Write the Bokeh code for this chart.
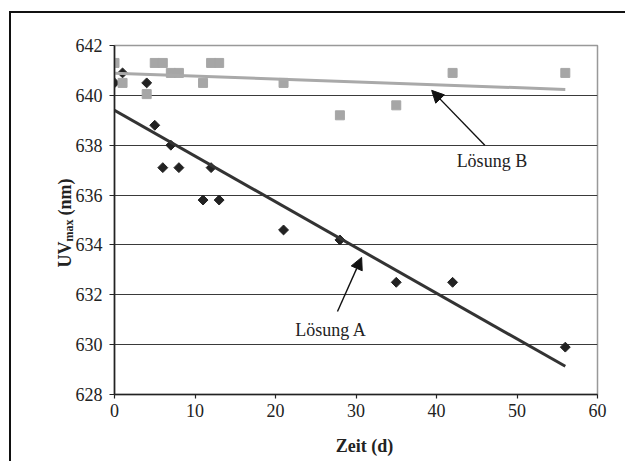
import numpy as np
from math import pi
from bokeh.plotting import figure
from bokeh.models import Label, Arrow, NormalHead, Range1d, FixedTicker
from bokeh.embed import file_html
from bokeh.resources import INLINE

# Data
days = [0, 1, 4, 5, 6, 7, 8, 11, 12, 13, 21, 28, 35, 42, 56]
uv_a = [640.5, 640.9, 640.5, 638.8, 637.1, 638.0, 637.1, 635.8, 637.1, 635.8,
        634.6, 634.2, 632.5, 632.5, 629.9]
uv_b = [641.3, 640.5, 640.05, 641.3, 641.3, 640.9, 640.9, 640.5, 641.3, 641.3,
        640.5, 639.2, 639.6, 640.9, 640.9]
x_ticks = [0, 10, 20, 30, 40, 50, 60]
y_ticks = [628, 630, 632, 634, 636, 638, 640, 642]
grid_ticks = [630, 632, 634, 636, 638, 640]

FONT = "Liberation Serif"
DARK = "#222222"
GRAY = "#a6a6a6"

p = figure(width=616, height=450, output_backend="svg", toolbar_location=None,
           x_range=Range1d(0, 60), y_range=Range1d(628, 642),
           min_border_left=103, min_border_right=30, min_border_top=32,
           min_border_bottom=69)
p.styles = {"margin-left": "9px", "margin-top": "11px",
            "border-left": "2px solid #111111", "border-top": "2px solid #111111"}

p.background_fill_color = "white"
p.border_fill_color = "white"
p.outline_line_color = "#999999"
p.outline_line_width = 1.5

p.xgrid.grid_line_color = None
p.ygrid.ticker = FixedTicker(ticks=grid_ticks)
p.ygrid.grid_line_color = "#3a3a3a"
p.ygrid.grid_line_width = 1

for ax, ticks, tout, stand in ((p.xaxis[0], x_ticks, 4, 5), (p.yaxis[0], y_ticks, 5, 7)):
    ax.ticker = FixedTicker(ticks=ticks)
    ax.minor_tick_line_color = None
    ax.major_tick_in = 0
    ax.major_tick_out = tout
    ax.major_tick_line_color = DARK
    ax.major_tick_line_width = 1.2
    ax.axis_line_color = DARK
    ax.axis_line_width = 1.6
    ax.major_label_text_font = FONT
    ax.major_label_text_font_size = "18px"
    ax.major_label_text_color = DARK
    ax.major_label_standoff = stand

# Scatter series
p.scatter(days, uv_a, marker="square", angle=pi / 4, size=7,
          fill_color=DARK, line_color=DARK)
p.scatter(days, uv_b, marker="square", size=9, fill_color=GRAY, line_color=GRAY)

# Linear trend lines (least squares fits of the series)
xa = np.array(days, dtype=float)
for ys, col in ((uv_a, "#333333"), (uv_b, "#a9a9a9")):
    k, d = np.polyfit(xa, np.array(ys), 1)
    xs = [min(days), max(days)]
    p.line(xs, [k * v + d for v in xs], line_color=col, line_width=3)

# Annotations
p.add_layout(Arrow(end=NormalHead(size=12, fill_color="#111111", line_color="#111111"),
                   x_start=27.7, y_start=631.33, x_end=30.7, y_end=633.5,
                   line_color="#111111", line_width=1.4))
p.add_layout(Arrow(end=NormalHead(size=12, fill_color="#111111", line_color="#111111"),
                   x_start=46.0, y_start=638.0, x_end=39.4, y_end=640.2,
                   line_color="#111111", line_width=1.4))
p.add_layout(Label(x=22.45, y=630.57, text="Lösung A", text_font=FONT,
                   text_font_size="18px", text_color=DARK,
                   text_align="left", text_baseline="alphabetic"))
p.add_layout(Label(x=42.5, y=637.35, text="Lösung B", text_font=FONT,
                   text_font_size="18px", text_color=DARK,
                   text_align="left", text_baseline="alphabetic"))

# Axis titles (canvas units, placed in the side panels)
def title(x, y, text, size, side, angle=0.0, align="left"):
    p.add_layout(Label(x=x, y=y, x_units="canvas", y_units="canvas", text=text,
                       angle=angle, text_font=FONT, text_font_size=size,
                       text_font_style="bold", text_color=DARK,
                       text_align=align, text_baseline="alphabetic"), side)

title(351, 430, "Zeit (d)", "18px", "below", align="center")
title(51, 252, "UV", "18px", "left", angle=pi / 2)
title(55, 226, "max", "12px", "left", angle=pi / 2)
title(51, 200, "(nm)", "18px", "left", angle=pi / 2)

open("out.html", "w").write(file_html(p, INLINE))
